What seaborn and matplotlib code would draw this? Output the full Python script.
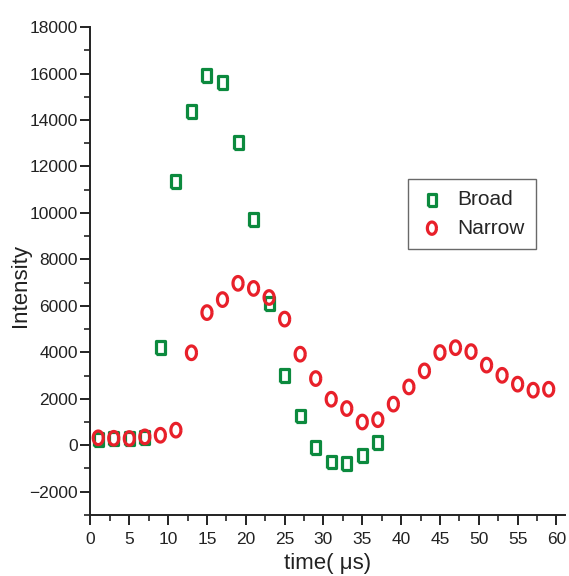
import numpy as np
import pandas as pd
import matplotlib
matplotlib.use('Agg')
import matplotlib.pyplot as plt
from matplotlib.ticker import MultipleLocator
import seaborn as sns

# data
broad_t = [1, 3, 5, 7, 9, 11, 13, 15, 17, 19, 21, 23, 25, 27, 29, 31, 33, 35, 37]
broad_i = [260, 290, 290, 340, 4220, 11340, 14350, 15930, 15620, 13020, 9720,
           6100, 2990, 1260, -110, -720, -800, -430, 100]

narrow_t = list(range(1, 60, 2))
narrow_i = [320, 300, 290, 360, 430, 650, 3980, 5710, 6270, 6970, 6750, 6360,
            5430, 3920, 2870, 1980, 1580, 1000, 1100, 1770, 2510, 3200, 3990,
            4200, 4030, 3450, 3010, 2630, 2370, 2410]

df_b = pd.DataFrame({'time': broad_t, 'Intensity': broad_i})
df_n = pd.DataFrame({'time': narrow_t, 'Intensity': narrow_i})

sns.set_style('ticks')
plt.rcParams['font.family'] = ['Liberation Sans', 'DejaVu Sans']

# tall markers like the original
t = np.linspace(0, 2 * np.pi, 40)
ellipse = list(zip(0.74 * np.cos(t), np.sin(t)))
rect = [(-0.7, -1), (0.7, -1), (0.7, 1), (-0.7, 1), (-0.7, -1)]

green = '#0c8a3e'
red = '#e8202a'
ink = '#222222'

fig = plt.figure(figsize=(5.69, 5.76), dpi=100)
ax = fig.add_axes([0.159, 0.106, 0.834, 0.847])

sns.scatterplot(data=df_b, x='time', y='Intensity', ax=ax, marker=rect, s=86,
                facecolors='none', edgecolor=green, linewidth=2.3, label='Broad')
sns.scatterplot(data=df_n, x='time', y='Intensity', ax=ax, marker=ellipse, s=96,
                facecolors='none', edgecolor=red, linewidth=2.3, label='Narrow')

ax.set_xlim(0, 61.1)
ax.set_ylim(-3000, 18000)
ax.xaxis.set_major_locator(MultipleLocator(5))
ax.xaxis.set_minor_locator(MultipleLocator(2.5))
ax.yaxis.set_minor_locator(MultipleLocator(1000))
ax.set_yticks([-2000, 0, 2000, 4000, 6000, 8000, 10000, 12000, 14000, 16000, 18000])
ax.set_yticklabels(['\u22122000', '0', '2000', '4000', '6000', '8000', '10000',
                    '12000', '14000', '16000', '18000'])

for s in ['top', 'right']:
    ax.spines[s].set_visible(False)
for s in ['left', 'bottom']:
    ax.spines[s].set_linewidth(1.4)
    ax.spines[s].set_color(ink)

ax.tick_params(which='major', length=7, width=1.4, labelsize=12.5, color=ink,
               labelcolor=ink, pad=2)
ax.tick_params(which='minor', length=4, width=1.2, color=ink)
ax.tick_params(axis='x', which='major', pad=5)

ax.set_xlabel('time( \u03bcs)', fontsize=16, color=ink)
ax.set_ylabel('Intensity', fontsize=16, color=ink)
ax.xaxis.set_label_coords(0.5, -0.078)
ax.yaxis.set_label_coords(-0.125, 0.47)

leg = ax.legend(loc='upper left', bbox_to_anchor=(0.669, 0.689), fontsize=15,
                frameon=True, fancybox=False, edgecolor='#444444',
                borderaxespad=0, handletextpad=0.6, borderpad=0.55,
                labelspacing=0.45, handlelength=1.2, markerscale=0.9)
leg.get_frame().set_linewidth(1.0)

fig.savefig('out.png', dpi=100)
